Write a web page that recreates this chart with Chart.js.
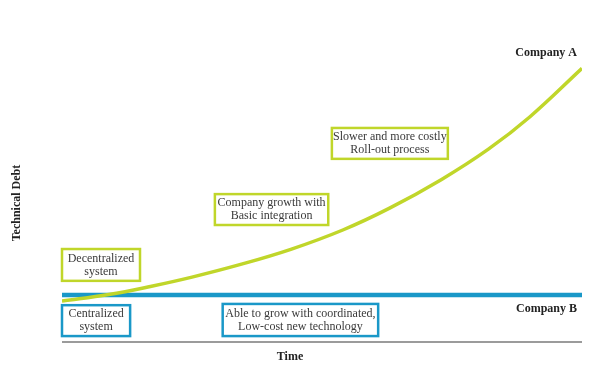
<!DOCTYPE html>
<html>
<head>
<meta charset="utf-8">
<script src="https://cdn.jsdelivr.net/npm/chart.js@4/dist/chart.umd.min.js"></script>
<style>
  html, body { margin: 0; padding: 0; background: #fff; }
  #wrap { width: 600px; height: 371px; }
</style>
</head>
<body>
<div id="wrap"><canvas id="debtChart"></canvas></div>
<script>
// ===== Data =====
const timeSteps = [0, 9, 17, 25, 34, 44, 54, 63, 73, 82, 90, 100];
const companyA = [13.1, 15.2, 17.8, 20.8, 24.7, 29.7, 35.9, 42.9, 52.1, 61.8, 72.2, 87.7];
const companyBTime = [0, 100];
const companyB = [15.1, 15.1];

const GREEN = '#c0d62a';
const BLUE = '#1a98c8';

// note boxes, placed in data units (x = time, y = debt)
const notes = [
  { lines: ['Decentralized', 'system'], x0: 0, x1: 15, y0: 29.8, y1: 19.6, color: GREEN },
  { lines: ['Centralized', 'system'], x0: 0, x1: 13.1, y0: 11.8, y1: 1.9, color: BLUE },
  { lines: ['Company growth with', 'Basic integration'], x0: 29.4, x1: 51.2, y0: 47.4, y1: 37.5, color: GREEN },
  { lines: ['Slower and more costly', 'Roll-out process'], x0: 51.9, x1: 74.2, y0: 68.6, y1: 58.7, color: GREEN },
  { lines: ['Able to grow with coordinated,', 'Low-cost new technology'], x0: 30.9, x1: 60.8, y0: 12.2, y1: 1.9, color: BLUE }
];

const labelsPlugin = {
  id: 'labels',
  afterDraw(chart) {
    const c = chart.ctx;
    const xs = chart.scales.x, ys = chart.scales.y;
    const area = chart.chartArea;
    c.save();

    // time axis
    c.strokeStyle = '#9b9b9b';
    c.lineWidth = 2;
    c.beginPath();
    c.moveTo(xs.getPixelForValue(0), area.bottom);
    c.lineTo(xs.getPixelForValue(100), area.bottom);
    c.stroke();

    // boxes
    c.font = '12px "Liberation Serif", serif';
    c.textAlign = 'center';
    c.textBaseline = 'middle';
    notes.forEach(n => {
      const l = xs.getPixelForValue(n.x0), r = xs.getPixelForValue(n.x1);
      const t = ys.getPixelForValue(n.y0), b = ys.getPixelForValue(n.y1);
      c.fillStyle = '#fff';
      c.fillRect(l, t, r - l, b - t);
      c.strokeStyle = n.color;
      c.lineWidth = 2.5;
      c.strokeRect(l, t, r - l, b - t);
      c.fillStyle = '#3a3a3a';
      const cx = (l + r) / 2, cy = (t + b) / 2;
      c.fillText(n.lines[0], cx, cy - 6.5);
      c.fillText(n.lines[1], cx, cy + 6.5);
    });

    // series labels and titles
    c.fillStyle = '#222';
    c.font = 'bold 12px "Liberation Serif", serif';
    c.textAlign = 'right';
    c.fillText('Company A', 577, 53);
    c.fillText('Company B', 577, 309);
    c.textAlign = 'center';
    c.fillText('Time', 290, 357);
    c.translate(17, 203);
    c.rotate(-Math.PI / 2);
    c.fillText('Technical Debt', 0, 0);
    c.restore();
  }
};

const ctx = document.getElementById('debtChart').getContext('2d');
const debtChart = new Chart(ctx, {
  type: 'line',
  data: {
    datasets: [{
      label: 'Company A',
      data: timeSteps.map((t, i) => ({ x: t, y: companyA[i] })),
      borderColor: GREEN,
      borderWidth: 3.5,
      tension: 0.4,
      pointRadius: 0,
      fill: false
    }, {
      label: 'Company B',
      data: companyBTime.map((t, i) => ({ x: t, y: companyB[i] })),
      borderColor: BLUE,
      borderWidth: 4.5,
      pointRadius: 0,
      fill: false
    }]
  },
  options: {
    responsive: true,
    maintainAspectRatio: false,
    animation: false,
    layout: { padding: { left: 62, right: 18, top: 30, bottom: 29 } },
    plugins: { legend: { display: false }, tooltip: { enabled: false } },
    scales: {
      x: { type: 'linear', min: 0, max: 100, display: false },
      y: { min: 0, max: 100, display: false }
    }
  },
  plugins: [labelsPlugin]
});
</script>
</body>
</html>
